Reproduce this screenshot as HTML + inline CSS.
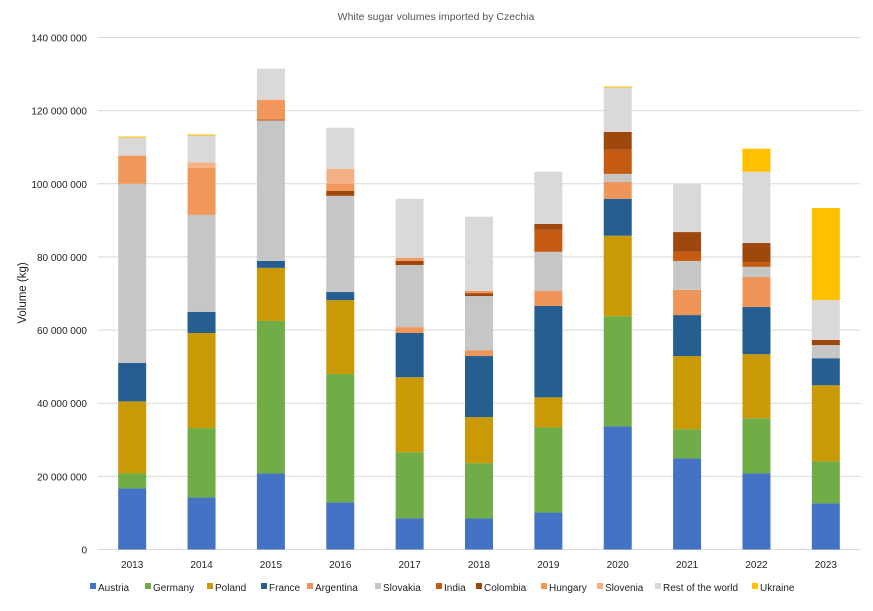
<!DOCTYPE html>
<html><head><meta charset="utf-8"><style>
body{margin:0;background:#fff;font-family:"Liberation Sans",sans-serif;}
svg text{font-family:"Liberation Sans",sans-serif;}
</style></head><body>
<svg id="c" width="873" height="606">
<text x="436" y="20" text-anchor="middle" font-size="10.5" fill="#555">White sugar volumes imported by Czechia</text>
<text transform="translate(26,293) rotate(-90)" text-anchor="middle" font-size="11.5" fill="#222">Volume (kg)</text>
<g id="grid"></g><g id="bars"></g><g id="xl"></g><g id="leg"></g>
</svg>
<script>
const years=["2013","2014","2015","2016","2017","2018","2019","2020","2021","2022","2023"];
const seriesNames=["Austria","Germany","Poland","France","Argentina","Slovakia","India","Colombia","Hungary","Slovenia","Rest of the world","Ukraine"];
const colors=["#4472C4","#70AD47","#C99A06","#255E91","#F0955A","#C6C6C6","#C55A11","#9E480E","#F1975A","#F4B183","#D9D9D9","#FFC000"];
const austria=[16.7,14.2,20.8,12.9,8.5,8.5,10.1,33.7,24.9,20.8,12.6];
const germany=[4.1,19,41.7,35.1,18.1,15.1,23.3,30.1,8,15.1,11.5];
const poland=[19.7,26,14.5,20.2,20.5,12.6,8.2,22,20,17.5,20.8];
const france=[10.5,5.8,1.9,2.2,12.1,16.7,25,10.1,11.2,12.9,7.4];
const argentina=[0,0,0,0,1.6,1.6,4.1,4.6,6.9,8.2,0];
const slovakia=[49,26.5,38.4,26.3,17,14.8,10.7,2.2,7.9,2.8,3.6];
const india=[0,0,0.3,0,0,0,6,6.6,2.5,1.3,0];
const colombia=[0,0,0,1.4,1.1,0.8,1.6,4.9,5.4,5.2,1.4];
const hungary=[7.7,12.9,5.4,1.9,0.8,0.6,0,0,0,0,0];
const slovenia=[0,1.4,0,4.1,0,0,0,0,0,0,0];
const rest=[4.9,7.4,8.5,11.2,16.2,20.3,14.3,12.1,13.2,19.5,10.9];
const ukraine=[0.3,0.3,0,0,0,0,0,0.3,0,6.3,25.2];
const yTicks=["0","20 000 000","40 000 000","60 000 000","80 000 000","100 000 000","120 000 000","140 000 000"];
const series=[austria,germany,poland,france,argentina,slovakia,india,colombia,hungary,slovenia,rest,ukraine];
const NS="http://www.w3.org/2000/svg";
const x0=97.5,x1=860.5,y0=549.5,y1=37.5,yMax=140;
const bw=(x1-x0)/years.length;
const yS=v=>y0-(v/yMax)*(y0-y1);
const xS=i=>x0+bw*(i+0.5);
function mk(t,a,p){const e=document.createElementNS(NS,t);for(const k in a)e.setAttribute(k,a[k]);p.appendChild(e);return e;}
const grid=document.getElementById('grid');
yTicks.forEach((t,i)=>{const v=i*20;
 const l=mk('line',{x1:x0,x2:x1,y1:yS(v),y2:yS(v),stroke:'#d9d9d9','stroke-width':1},grid);
 
 
 const tx=mk('text',{x:87,y:yS(v)+4,'text-anchor':'end','font-size':10,fill:'#222'},grid);tx.textContent=t;
 
 
});
const bars=document.getElementById('bars');
years.forEach((y,i)=>{let c=0;
 series.forEach((s,j)=>{const v=s[i];if(v<=0)return;
  const r=mk('rect',{x:xS(i)-14,width:28,y:yS(c+v),height:yS(c)-yS(c+v),fill:colors[j]},bars);
  
  
  c+=v;});
 const t=mk('text',{x:xS(i),y:568,'text-anchor':'middle','font-size':10,fill:'#222'},document.getElementById('xl'));t.textContent=y;
 
 
});
const leg=document.getElementById('leg');
const lx=[90,145,207,261,307,375,436,476,541,597,655,752];
seriesNames.forEach((n,j)=>{
 const g=mk('g',{},leg);
 
 
 mk('rect',{x:lx[j],y:583,width:6,height:6,fill:colors[j]},g);
 const t=mk('text',{x:lx[j]+8,y:591,'font-size':10,fill:'#222'},g);t.textContent=n;
});
</script>
</body></html>
